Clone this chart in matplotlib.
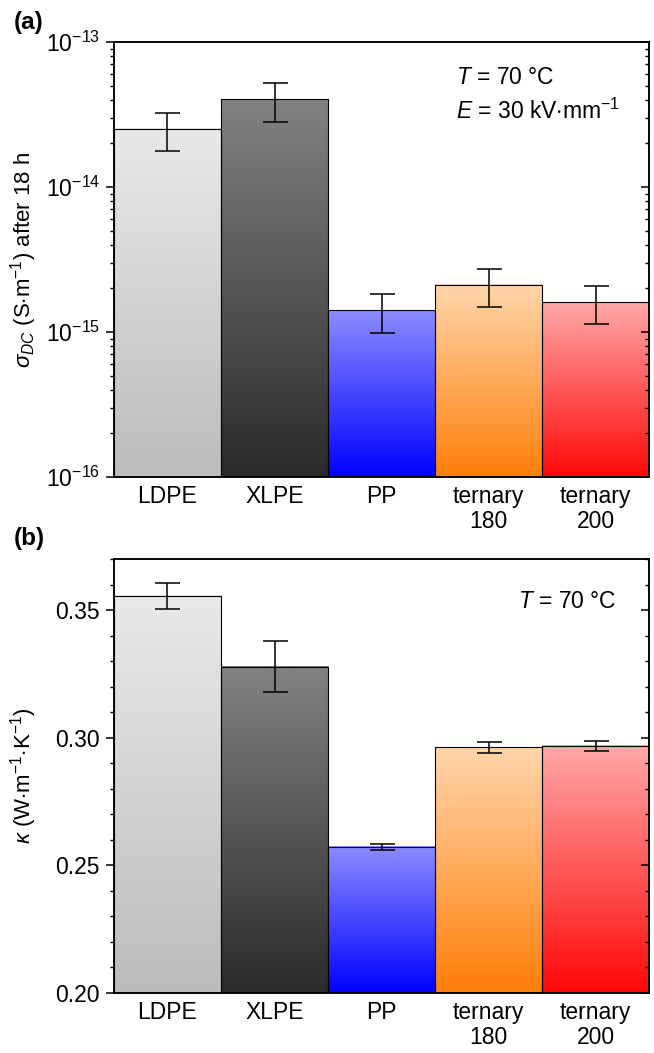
import numpy as np
import matplotlib
matplotlib.use('Agg')
import matplotlib.pyplot as plt
from matplotlib.colors import LinearSegmentedColormap
from matplotlib.ticker import MultipleLocator, FormatStrFormatter, LogLocator, NullFormatter

plt.rcParams['font.family'] = ['Liberation Sans', 'DejaVu Sans']
plt.rcParams['mathtext.fontset'] = 'custom'
plt.rcParams['mathtext.rm'] = 'Liberation Sans'
plt.rcParams['mathtext.it'] = 'Liberation Sans:italic'
plt.rcParams['mathtext.bf'] = 'Liberation Sans:bold'

# samples
materials = ['LDPE', 'XLPE', 'PP', 'ternary\n180', 'ternary\n200']

# DC conductivity after 18 h (S/m) at 70 degC, 30 kV/mm
sigma_dc = [2.52e-14, 4.02e-14, 1.41e-15, 2.11e-15, 1.61e-15]
sigma_err = [0.74e-14, 1.21e-14, 0.42e-15, 0.63e-15, 0.47e-15]
sigma_ticks = [1e-16, 1e-15, 1e-14, 1e-13]

# thermal conductivity (W/m/K) at 70 degC
kappa = [0.3556, 0.3278, 0.2573, 0.2962, 0.2968]
kappa_err = [0.0050, 0.0100, 0.0012, 0.0022, 0.0021]
kappa_ticks = [0.20, 0.25, 0.30, 0.35]

# gradient colours per bar (top, bottom)
bar_colors = [('#e9e9e9', '#bcbcbc'),
              ('#828282', '#2a2a2a'),
              ('#8c8cff', '#0000ff'),
              ('#ffd6ac', '#ff7f0a'),
              ('#ffa8a8', '#ff0808')]


def gradient_bars(ax, rects, colors):
    """Fill each bar with a vertical gradient, light at the top"""
    to_axes = ax.transData + ax.transAxes.inverted()
    grad = np.linspace(0, 1, 256).reshape(-1, 1)
    for rect, (c_top, c_bot) in zip(rects, colors):
        cmap = LinearSegmentedColormap.from_list('bar', [c_bot, c_top])
        (x0, y0), (x1, y1) = to_axes.transform(
            [(rect.get_x(), rect.get_y()),
             (rect.get_x() + rect.get_width(), rect.get_y() + rect.get_height())])
        ax.imshow(grad, cmap=cmap, origin='lower', aspect='auto',
                  extent=(x0, x1, y0, y1), transform=ax.transAxes,
                  interpolation='bilinear', zorder=1)
        rect.set_facecolor('none')
        rect.set_zorder(2)


def style_axes(ax, twin):
    for a in (ax, twin):
        for sp in a.spines.values():
            sp.set_linewidth(1.1)
    ax.tick_params(axis='y', which='major', direction='out', length=6, width=1.1,
                   labelsize=16.5, pad=4, right=False)
    ax.tick_params(axis='y', which='minor', direction='out', length=3, width=1.0, right=False)
    ax.tick_params(axis='x', length=0, labelsize=16.5, pad=6)
    # right-hand ticks point inwards and carry no labels
    twin.yaxis.set_major_formatter(NullFormatter())
    twin.yaxis.set_minor_formatter(NullFormatter())
    twin.tick_params(axis='y', which='major', direction='in', length=6, width=1.1,
                     labelright=False, labelleft=False)
    twin.tick_params(axis='y', which='minor', direction='in', length=3, width=1.0)
    for lab in ax.get_xticklabels():
        lab.set_linespacing(1.1)


x = np.arange(1, len(materials) + 1)
fig = plt.figure(figsize=(6.54, 10.53), dpi=100)

# (a) DC conductivity
ax1 = fig.add_axes([0.1743, 0.5470, 0.8181, 0.4131])
ax1.set_yscale('log')
ax1.set_xlim(0.5, 5.5)
ax1.set_ylim(sigma_ticks[0], sigma_ticks[-1])
bottom1 = sigma_ticks[0]
bars1 = ax1.bar(x, np.array(sigma_dc) - bottom1, width=1.0, bottom=bottom1,
                edgecolor='black', linewidth=0.8)
gradient_bars(ax1, bars1, bar_colors)
ax1.errorbar(x, sigma_dc, yerr=sigma_err, fmt='none', ecolor='black',
             elinewidth=1.1, capsize=9, capthick=1.1, zorder=3)
ax1.set_yticks(sigma_ticks)
ax1.yaxis.set_minor_locator(LogLocator(base=10, subs=np.arange(2, 10), numticks=10))
ax1.yaxis.set_minor_formatter(NullFormatter())
ax1.set_xticks(x)
ax1.set_xticklabels(materials)
ax1.set_ylabel(r'$\sigma_{DC}$ (S$\cdot$m$^{-1}$) after 18 h', fontsize=16)
ax1.yaxis.set_label_coords(-0.140, 0.5)
ax1.text(0.639, 0.9195, r'$T$ = 70 °C', transform=ax1.transAxes,
         fontsize=16.5, ha='left', va='center')
ax1.text(0.639, 0.841, r'$E$ = 30 kV$\cdot$mm$^{-1}$', transform=ax1.transAxes,
         fontsize=16.5, ha='left', va='center')
tw1 = ax1.twinx()
tw1.set_yscale('log')
tw1.set_ylim(ax1.get_ylim())
tw1.set_yticks(sigma_ticks)
tw1.yaxis.set_minor_locator(LogLocator(base=10, subs=np.arange(2, 10), numticks=10))
style_axes(ax1, tw1)

# (b) thermal conductivity
ax2 = fig.add_axes([0.1743, 0.0570, 0.8181, 0.4121])
ax2.set_xlim(0.5, 5.5)
ax2.set_ylim(0.20, 0.37)
bottom2 = kappa_ticks[0]
bars2 = ax2.bar(x, np.array(kappa) - bottom2, width=1.0, bottom=bottom2,
                edgecolor='black', linewidth=0.8)
gradient_bars(ax2, bars2, bar_colors)
ax2.errorbar(x, kappa, yerr=kappa_err, fmt='none', ecolor='black',
             elinewidth=1.1, capsize=9, capthick=1.1, zorder=3)
ax2.set_yticks(kappa_ticks)
ax2.yaxis.set_minor_locator(MultipleLocator(0.01))
ax2.yaxis.set_major_formatter(FormatStrFormatter('%.2f'))
ax2.set_xticks(x)
ax2.set_xticklabels(materials)
ax2.set_ylabel(r'$\kappa$ (W$\cdot$m$^{-1}$$\cdot$K$^{-1}$)', fontsize=16)
ax2.yaxis.set_label_coords(-0.140, 0.5)
ax2.text(0.940, 0.901, r'$T$ = 70 °C', transform=ax2.transAxes,
         fontsize=16.5, ha='right', va='center')
tw2 = ax2.twinx()
tw2.set_ylim(ax2.get_ylim())
tw2.set_yticks(kappa_ticks)
tw2.yaxis.set_minor_locator(MultipleLocator(0.01))
style_axes(ax2, tw2)

fig.text(14 / 654, 1 - 22 / 1053, '(a)', fontsize=17.5, fontweight='bold',
         ha='left', va='center')
fig.text(14 / 654, 1 - 538 / 1053, '(b)', fontsize=17.5, fontweight='bold',
         ha='left', va='center')

fig.savefig('out.png', dpi=100)
